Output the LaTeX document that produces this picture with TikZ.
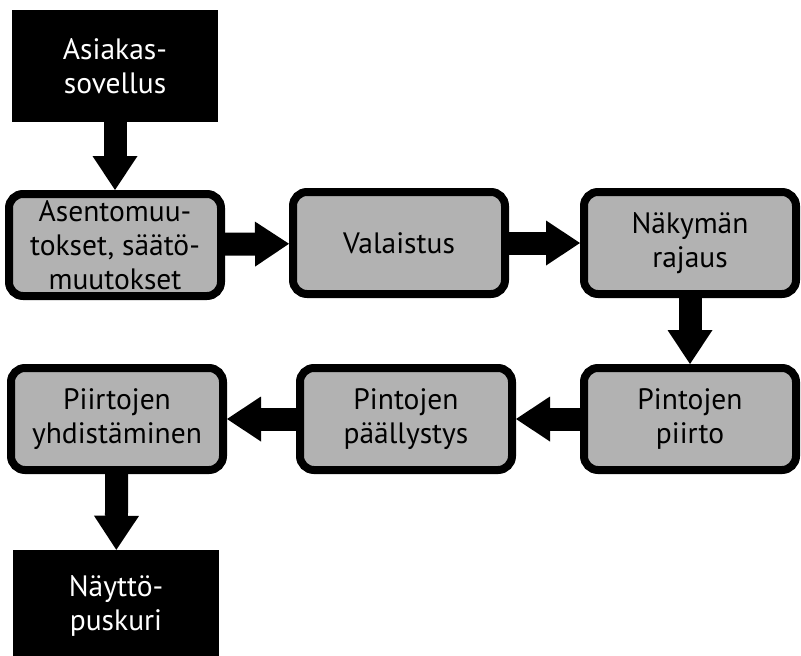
\documentclass[tikz,border=0pt]{standalone}
\usepackage{fontspec}
\setmainfont{PT Sans}
\usetikzlibrary{arrows.meta}
\begin{document}
\begin{tikzpicture}[x=1pt,y=-1pt,
	vaihe/.style={draw,line width=8pt,fill=black!30,rounded corners=14pt,
		minimum width=212pt,minimum height=102pt,inner sep=0pt,align=center,
		font=\fontsize{29.5}{34}\selectfont},
	paate/.style={fill=black,text=white,minimum width=206pt,minimum height=112pt,
		inner sep=0pt,align=center,font=\fontsize{29.5}{34}\selectfont},
	nuoli/.style={line width=23pt,-{Triangle[length=34pt,width=45pt,line width=0pt]}}]
	\useasboundingbox (0,0) rectangle (801,656);
	\node[paate] at (115,66) (sovellus) {Asiakas-\\sovellus};
	\node[vaihe] at (115,245) (asento) {Asentomuu-\\tokset, säätö-\\muutokset};
	\node[vaihe] at (399,243) (valaistus) {Valaistus};
	\node[vaihe] at (690,243) (rajaus) {Näkymän\\rajaus};
	\node[vaihe] at (690,419) (piirto) {Pintojen\\piirto};
	\node[vaihe] at (406,419) (paallystys) {Pintojen\\päällystys};
	\node[vaihe] at (117,419) (yhdistys) {Piirtojen\\yhdistäminen};
	\node[paate] at (116,606) (puskuri) {Näyttö-\\puskuri};
	\draw[nuoli] (sovellus) -- (asento);
	\draw[nuoli] (asento) -- (valaistus);
	\draw[nuoli] (valaistus) -- (rajaus);
	\draw[nuoli] (rajaus) -- (piirto);
	\draw[nuoli] (piirto) -- (paallystys);
	\draw[nuoli] (paallystys) -- (yhdistys);
	\draw[nuoli] (yhdistys) -- (puskuri);
\end{tikzpicture}
\end{document}
